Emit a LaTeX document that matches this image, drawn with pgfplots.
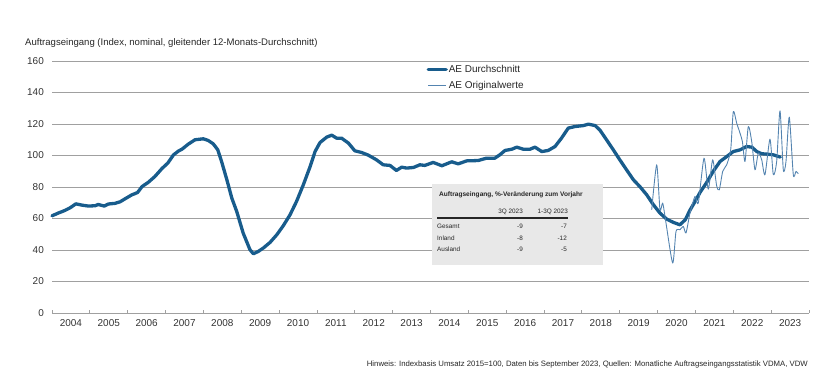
\documentclass[border=0pt]{standalone}
\usepackage{pgfplots}
\pgfplotsset{compat=1.18}
\usepackage{fontspec}
\setmainfont{Liberation Sans}
\definecolor{thickblue}{RGB}{24,92,140}
\definecolor{thinblue}{RGB}{84,132,176}
\definecolor{gridgray}{RGB}{160,160,160}
\definecolor{boxgray}{RGB}{232,232,232}
\begin{document}
\begin{tikzpicture}
\path[use as bounding box] (0,0) rectangle (840bp,381bp);
\begin{axis}[
  at={(52bp,68bp)}, anchor=south west,
  scale only axis, width=757bp, height=252bp,
  xmin=2004, xmax=2024, ymin=0, ymax=160,
  axis x line*=bottom, axis y line*=left,
  x axis line style={draw=gridgray, line width=0.9bp, -},
  y axis line style={draw=none},
  xtick={2004,...,2024}, xticklabels={},
  xtick style={draw=gridgray, line width=0.8bp},
  major tick length=3bp, tick align=inside,
  extra x ticks={2004.5,2005.5,2006.5,2007.5,2008.5,2009.5,2010.5,2011.5,2012.5,2013.5,2014.5,2015.5,2016.5,2017.5,2018.5,2019.5,2020.5,2021.5,2022.5,2023.5},
  extra x tick labels={2004,2005,2006,2007,2008,2009,2010,2011,2012,2013,2014,2015,2016,2017,2018,2019,2020,2021,2022,2023},
  extra x tick style={major tick length=0pt, grid=none},
  xticklabel style={font=\fontsize{10}{12}\selectfont, text=black!80, inner sep=0pt, anchor=north, yshift=-6bp},
  ytick={0,20,...,160},
  ytick style={draw=none},
  ymajorgrids, grid style={draw=gridgray, line width=0.8bp},
  yticklabel style={font=\fontsize{10}{12}\selectfont, text=black!80, inner sep=0pt, anchor=east, xshift=-8bp},
  /pgf/number format/assume math mode=true,
  clip=false,
  legend style={draw=none, fill=none, at={(0.4945,0.988)}, anchor=north west,
    font=\fontsize{10}{12}\selectfont, inner sep=0pt, row sep=5bp,
    nodes={inner sep=1bp, text=black!85}},
  legend cell align=left,
  legend image code/.code={\draw[#1] (0bp,0bp) -- (18bp,0bp);},
]
\addplot[thickblue, line width=3.3bp, line join=round, line cap=round] coordinates {
(2004.00,61.7) (2004.17,63.5) (2004.34,65.1) (2004.48,66.8) (2004.63,69.3)
(2004.79,68.5) (2004.96,67.9) (2005.14,68.1) (2005.22,68.9) (2005.38,67.9)
(2005.49,69.2) (2005.66,69.6) (2005.80,70.6) (2005.93,72.5) (2006.10,74.9)
(2006.26,76.5) (2006.38,80.3) (2006.54,82.9) (2006.72,86.7) (2006.90,91.6)
(2007.06,95.2) (2007.21,100.4) (2007.34,102.8) (2007.44,104.1) (2007.60,107.2)
(2007.78,110.0) (2008.00,110.6) (2008.13,109.5) (2008.26,107.4) (2008.38,103.6)
(2008.48,96.2) (2008.62,84.6) (2008.75,73.0) (2008.88,64.5) (2009.05,50.8)
(2009.23,40.2) (2009.32,37.6) (2009.45,39.1) (2009.58,41.2) (2009.76,44.8)
(2009.94,49.7) (2010.11,55.4) (2010.29,62.4) (2010.46,70.8) (2010.64,81.4)
(2010.82,93.0) (2010.95,102.5) (2011.08,108.2) (2011.26,111.7) (2011.39,112.9)
(2011.52,111.0) (2011.65,111.0) (2011.83,107.9) (2012.00,103.0) (2012.18,101.9)
(2012.35,100.3) (2012.57,97.3) (2012.75,94.1) (2012.93,93.7) (2013.10,90.5)
(2013.24,92.6) (2013.37,92.0) (2013.55,92.4) (2013.72,94.1) (2013.85,93.7)
(2014.07,95.6) (2014.30,93.5) (2014.56,96.0) (2014.73,94.7) (2014.96,96.6)
(2015.26,96.8) (2015.48,98.3) (2015.70,98.3) (2015.83,100.4) (2015.97,103.2)
(2016.15,104.0) (2016.28,105.3) (2016.45,104.0) (2016.63,104.0) (2016.76,105.3)
(2016.94,102.5) (2017.11,103.2) (2017.29,105.7) (2017.46,111.0) (2017.64,117.4)
(2017.82,118.4) (2018.04,119.0) (2018.17,119.9) (2018.35,119.0) (2018.48,116.0)
(2018.65,110.0) (2018.83,103.6) (2019.00,97.3) (2019.18,90.9) (2019.36,84.6)
(2019.54,80.0) (2019.71,75.1) (2019.89,68.7) (2020.06,63.5) (2020.24,59.6)
(2020.42,57.5) (2020.59,56.0) (2020.73,59.2) (2020.86,65.5) (2020.99,70.8)
(2021.12,76.5) (2021.30,83.0) (2021.47,90.0) (2021.65,96.2) (2021.83,99.4)
(2022.00,102.5) (2022.18,103.6) (2022.35,105.7) (2022.49,105.3) (2022.62,102.5)
(2022.75,101.1) (2022.88,100.9) (2023.06,100.4) (2023.24,99.0)
};
\addlegendentry{AE Durchschnitt}
\addplot[thinblue, line width=0.9bp, smooth, tension=0.4, line join=round] coordinates {
(2019.844,65.5) (2019.976,94.1) (2020.063,65.5) (2020.135,69.8) (2020.222,57.1)
(2020.399,31.7) (2020.486,51.8) (2020.592,52.9) (2020.679,55.0) (2020.750,50.8)
(2020.856,63.5) (2020.988,74.0) (2021.075,69.8) (2021.226,98.3) (2021.339,78.6)
(2021.455,97.3) (2021.560,80.8) (2021.630,78.2) (2021.720,89.9) (2021.825,94.1)
(2021.931,103.6) (2022.000,127.9) (2022.089,120.6) (2022.177,114.2) (2022.240,108.9)
(2022.309,96.2) (2022.396,118.4) (2022.486,108.9) (2022.573,90.9) (2022.660,101.5)
(2022.750,97.3) (2022.837,87.8) (2022.969,110.4) (2023.057,87.8) (2023.146,96.2)
(2023.234,128.4) (2023.321,90.9) (2023.392,96.2) (2023.479,124.4) (2023.585,87.8)
(2023.656,89.9) (2023.717,88.4)
};
\addlegendentry{AE Originalwerte}
\end{axis}
% title and footnote
\node[anchor=west, inner sep=0pt, font=\fontsize{9.6}{11}\selectfont, text=black!85] at (25bp,338bp) {Auftragseingang (Index, nominal, gleitender 12-Monats-Durchschnitt)};
\node[anchor=east, inner sep=0pt, font=\fontsize{7.8}{9}\selectfont, text=black!85] at (808bp,17bp) {Hinweis: Indexbasis Umsatz 2015=100, Daten bis September 2023, Quellen: Monatliche Auftragseingangsstatistik VDMA, VDW};
% inset table
\fill[boxgray] (432bp,116bp) rectangle (603bp,197bp);
\node[anchor=west, inner sep=0pt, font=\bfseries\fontsize{6.6}{8}\selectfont, text=black!85] at (439bp,186bp) {Auftragseingang, \%-Veränderung zum Vorjahr};
\begin{scope}[every node/.style={inner sep=0pt, font=\fontsize{6.4}{7}\selectfont, text=black!85}]
\node[anchor=east] at (523bp,169bp) {3Q 2023};
\node[anchor=east] at (568bp,169bp) {1-3Q 2023};
\draw[black!85, line width=1.1bp] (437bp,163bp) -- (568bp,163bp);
\node[anchor=west] at (437bp,155bp) {Gesamt};
\node[anchor=west] at (437bp,143bp) {Inland};
\node[anchor=west] at (437bp,132bp) {Ausland};
\node[anchor=east] at (523bp,155bp) {-9};
\node[anchor=east] at (567bp,155bp) {-7};
\node[anchor=east] at (523bp,143bp) {-8};
\node[anchor=east] at (567bp,143bp) {-12};
\node[anchor=east] at (523bp,132bp) {-9};
\node[anchor=east] at (567bp,132bp) {-5};
\end{scope}
\end{tikzpicture}
\end{document}
